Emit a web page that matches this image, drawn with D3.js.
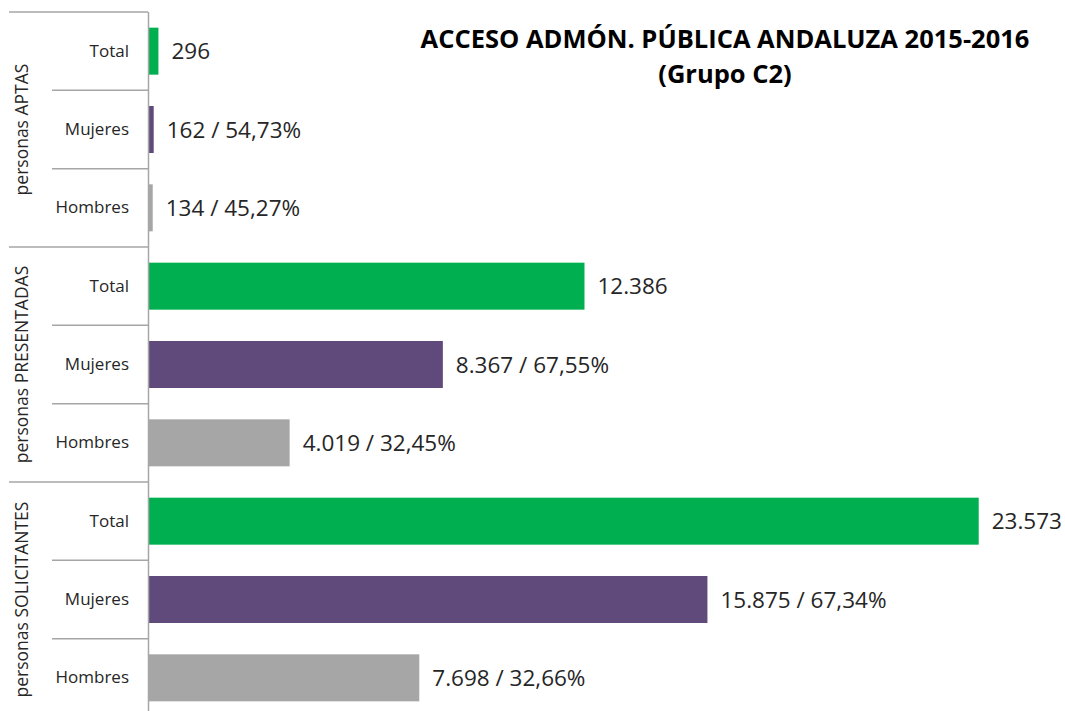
<!DOCTYPE html>
<html>
<head>
<meta charset="utf-8">
<script src="https://cdn.jsdelivr.net/npm/d3@7"></script>
<style>
  body { margin: 0; background: #fff; }
  svg { display: block; font-family: "Open Sans", sans-serif; }
</style>
</head>
<body>
<div id="chart"></div>
<script>
// data
var groups = ['personas APTAS', 'personas PRESENTADAS', 'personas SOLICITANTES'];
var categories = ['Total', 'Mujeres', 'Hombres'];
var aptas = [296, 162, 134];
var presentadas = [12386, 8367, 4019];
var solicitantes = [23573, 15875, 7698];
var aptasPct = [null, '54,73%', '45,27%'];
var presentadasPct = [null, '67,55%', '32,45%'];
var solicitantesPct = [null, '67,34%', '32,66%'];
var colors = ['#00b050', '#604a7b', '#a6a6a6'];

var width = 1065, height = 711;
var plotLeft = 148, plotTop = 12, plotBottom = 717;

var rows = [];
[[aptas, aptasPct], [presentadas, presentadasPct], [solicitantes, solicitantesPct]].forEach(function (g, gi) {
  categories.forEach(function (c, ci) {
    rows.push({ key: gi + '-' + ci, group: gi, cat: c, ci: ci, value: g[0][ci], pct: g[1][ci] });
  });
});

var fmt = d3.formatLocale({ decimal: ',', thousands: '.', grouping: [3], currency: ['', '€'] }).format(',d');

var svg = d3.select('#chart').append('svg').attr('width', width).attr('height', height);

var y = d3.scaleBand()
  .domain(rows.map(function (d) { return d.key; }))
  .range([plotTop, plotBottom])
  .paddingInner(0.4)
  .paddingOuter(0.2);
var step = y.step();

var x = d3.scaleLinear().domain([0, 25000]).range([plotLeft, 1029]);

// bars
svg.selectAll('rect.bar').data(rows).enter().append('rect')
  .attr('class', 'bar')
  .attr('x', x(0))
  .attr('y', function (d) { return y(d.key); })
  .attr('width', function (d) { return x(d.value) - x(0); })
  .attr('height', y.bandwidth())
  .style('fill', function (d) { return colors[d.ci]; });

// value labels
svg.selectAll('text.val').data(rows).enter().append('text')
  .attr('class', 'val')
  .attr('x', function (d) { return x(d.value) + 13; })
  .attr('y', function (d) { return y(d.key) + y.bandwidth() / 2; })
  .attr('dy', '0.36em')
  .style('font-size', '22.5px')
  .style('fill', '#262626')
  .text(function (d) { return d.pct ? fmt(d.value) + ' / ' + d.pct : fmt(d.value); });

// axis with category labels
var axis = svg.append('g')
  .attr('transform', 'translate(' + plotLeft + ',0)')
  .call(d3.axisLeft(y).tickSize(0).tickPadding(19).tickFormat(function (k) {
    return rows.find(function (r) { return r.key === k; }).cat;
  }));
axis.select('.domain').attr('stroke', '#a6a6a6').attr('stroke-width', 1.5).attr('d', 'M0.5,' + plotTop + 'V' + plotBottom);
axis.selectAll('text').style('font-family', '"Open Sans", sans-serif').style('font-size', '17px').style('fill', '#262626');

// separators
var seps = d3.range(0, 9);
svg.selectAll('line.sep').data(seps).enter().append('line')
  .attr('class', 'sep')
  .attr('x1', function (k) { return k % 3 === 0 ? 9 : 52; })
  .attr('x2', plotLeft)
  .attr('y1', function (k) { return plotTop + k * step; })
  .attr('y2', function (k) { return plotTop + k * step; })
  .attr('stroke', '#a6a6a6')
  .attr('stroke-width', 1.5);

// group labels
svg.selectAll('text.grp').data(groups).enter().append('text')
  .attr('class', 'grp')
  .attr('transform', function (d, i) {
    return 'translate(22,' + (plotTop + (i * 3 + 1.5) * step) + ') rotate(-90)';
  })
  .attr('text-anchor', 'middle')
  .attr('dy', '0.36em')
  .style('font-size', '17.5px')
  .style('fill', '#262626')
  .text(function (d) { return d; });

// title
var title = svg.append('text')
  .attr('x', 725)
  .attr('y', 48)
  .attr('text-anchor', 'middle')
  .style('font-size', '25.5px')
  .style('font-weight', 'bold')
  .style('fill', '#000');
title.append('tspan').attr('x', 725).text('ACCESO ADMÓN. PÚBLICA ANDALUZA 2015-2016');
title.append('tspan').attr('x', 725).attr('dy', 35).text('(Grupo C2)');
</script>
</body>
</html>
